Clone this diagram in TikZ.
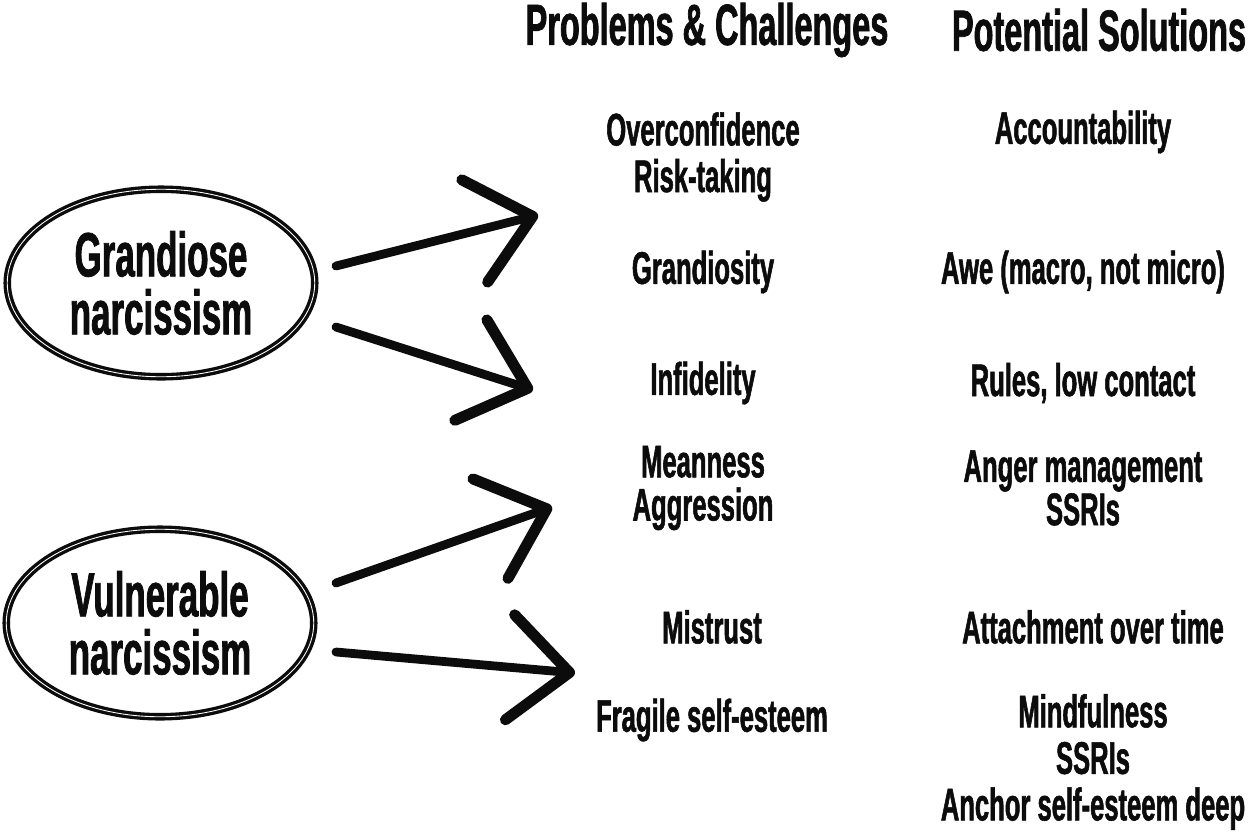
\documentclass[tikz,border=0pt]{standalone}
\usepackage{fontspec}
\usepackage{tikz}
\usetikzlibrary{shapes.geometric, arrows.meta, positioning}
\newfontfamily\sketchfont[FakeStretch=0.56, FakeBold=1.2]{Liberation Sans}
\definecolor{myink}{RGB}{12,12,12}
\tikzset{
  bubble/.style={ellipse, draw=myink, double=white, double distance=0.5pt,
    line width=1.9pt, inner sep=0pt, minimum width=6.15cm, minimum height=3.75cm,
    align=center, text=myink, font=\sketchfont\bfseries\fontsize{35.5}{33}\selectfont},
  header/.style={align=center, text=myink, inner sep=0pt,
    font=\sketchfont\bfseries\fontsize{33}{32}\selectfont},
  item/.style={align=center, text=myink, inner sep=0pt,
    font=\sketchfont\bfseries\fontsize{26}{26.5}\selectfont},
  tightitem/.style={item, font=\sketchfont\bfseries\fontsize{26}{24.6}\selectfont},
  arrow/.style={-{Straight Barb[length=34pt, width=60pt, line width=0pt 1.25, round]},
    line width=5pt, line cap=round, color=myink}
}

\begin{document}
\begin{tikzpicture}[x=0.2mm, y=-0.2mm]
  \useasboundingbox (0,0) rectangle (1248,832);
  \clip (0,0) rectangle (1248,832);
  \fill[white] (0,0) rectangle (1248,832);

  % column headings
  \node[header] (probhead) at (707,30) {Problems \& Challenges};
  \node[header] (solhead) at (1099,30) {Potential Solutions};

  % the two kinds
  \node[bubble] (grand) at (161,283) {Grandiose\\narcissism};
  \node[bubble] (vuln) at (160,623) {Vulnerable\\narcissism};

  % problems
  \node[item] (overconf) at (703,157) {Overconfidence\\Risk-taking};
  \node[item] (grandios) at (703,272) {Grandiosity};
  \node[item] (infid) at (703,383) {Infidelity};
  \node[tightitem] (mean) at (703,488) {Meanness\\Aggression};
  \node[item] (mistrust) at (712,627) {Mistrust};
  \node[item] (fragile) at (712,720) {Fragile self-esteem};

  % solutions
  \node[item] (account) at (1083,132) {Accountability};
  \node[item] (awe) at (1083,272) {Awe (macro, not micro)};
  \node[item] (rules) at (1083,383) {Rules, low contact};
  \node[tightitem] (anger) at (1083,488) {Anger management\\SSRIs};
  \node[item] (attach) at (1093,627) {Attachment over time};
  \node[item] (mindful) at (1093,762) {Mindfulness\\SSRIs\\Anchor self-esteem deep};

  % arrows
  \coordinate (g1t) at (336,266);
  \coordinate (g1h) at (538,215);
  \coordinate (g2t) at (336,327);
  \coordinate (g2h) at (533,390);
  \coordinate (v1t) at (336,583);
  \coordinate (v1h) at (552,507);
  \coordinate (v2t) at (336,652);
  \coordinate (v2h) at (575,673);
  \draw[arrow] (g1t) -- (g1h);
  \draw[arrow] (g2t) -- (g2h);
  \draw[arrow] (v1t) -- (v1h);
  \draw[arrow] (v2t) -- (v2h);
\end{tikzpicture}
\end{document}
